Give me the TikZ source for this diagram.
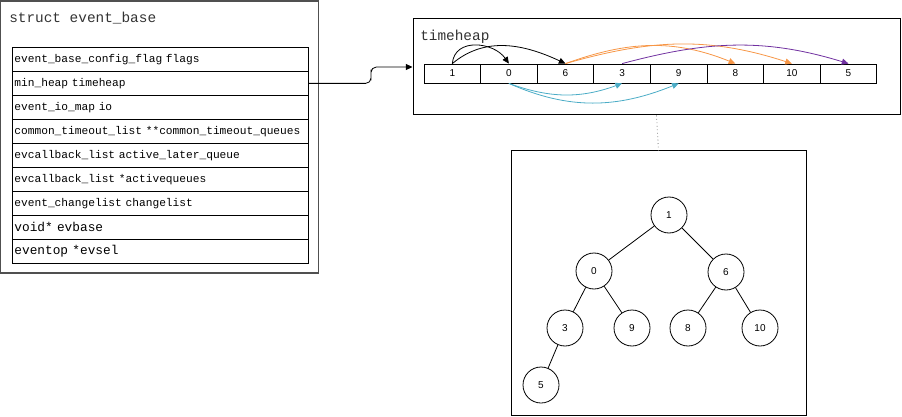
\documentclass[tikz,border=0pt]{standalone}
\usepackage{fontspec}
\setmonofont{Liberation Mono}
\setsansfont{Liberation Sans}
\usetikzlibrary{arrows.meta}
\definecolor{arrorange}{HTML}{F79646}
\definecolor{arrpurple}{HTML}{7030A0}
\definecolor{arrblue}{HTML}{4BACC6}
\definecolor{framegray}{HTML}{505050}
\begin{document}
\begin{tikzpicture}[x=0.75pt,y=-0.75pt,
  outerframe/.style={draw=framegray, line width=0.9pt, inner sep=0pt},
  frame/.style={draw=black, line width=0.75pt, inner sep=0pt},
  titletext/.style={anchor=west, inner sep=0pt, font=\ttfamily\fontsize{10.8}{12}\selectfont, text=black!80},
  field/.style={draw, line width=0.6pt, anchor=north west, minimum height=18pt, minimum width=222pt,
    text width=219pt, inner xsep=1.5pt, inner ysep=0pt, align=left, font=\ttfamily\fontsize{8.4}{10}\selectfont},
  bigfield/.style={field, font=\ttfamily\fontsize{9.6}{11}\selectfont},
  cell/.style={draw, line width=0.6pt, minimum width=42.45pt, minimum height=14.25pt, inner sep=0pt,
    font=\sffamily\fontsize{7.5}{9}\selectfont},
  tnode/.style={circle, draw, line width=0.6pt, minimum size=27pt, inner sep=0pt,
    font=\sffamily\fontsize{7.5}{9}\selectfont},
  harr/.style={-{Triangle[length=5pt,width=4.5pt]}, line width=0.6pt},
  tedge/.style={line width=0.6pt}
]
\useasboundingbox (0,0) rectangle (902,417);

% struct event_base
\node[outerframe, minimum width=238.5pt, minimum height=204pt] (ob) at (159.75,137) {};
\node[titletext] (obt) at (9,18) {struct event\_base};
\node[field] (r1) at (12,47) {event\_base\_config\_flag flags};
\node[field] (r2) at (12,71) {min\_heap timeheap};
\node[field] (r3) at (12,95) {event\_io\_map io};
\node[field] (r4) at (12,119) {common\_timeout\_list **common\_timeout\_queues};
\node[field] (r5) at (12,143) {evcallback\_list active\_later\_queue};
\node[field] (r6) at (12,167) {evcallback\_list *activequeues};
\node[field] (r7) at (12,191) {event\_changelist changelist};
\node[bigfield] (r8) at (12,215) {void* evbase};
\node[bigfield] (r9) at (12,239) {eventop *evsel};

% timeheap box
\node[frame, minimum width=365.25pt, minimum height=72pt] (th) at (656.5,67) {};
\node[titletext] (tht) at (420,37) {timeheap};
\foreach \v [count=\i from 0] in {1,0,6,3,9,8,10,5} {
  \node[cell] (c\i) at (452.3+56.6*\i,73.5) {\v};
}

% connector
\coordinate (mid) at (371,75);
\draw[harr, rounded corners=4pt] (r2.east) -| (mid) |- (th.west);

% array arrows
\draw[harr] (c0.north) to[out=85,in=125, looseness=1.2] (c1.north);
\draw[harr] (c0.north) to[out=40,in=155] (c2.north);
\draw[harr, color=arrorange] (c2.north) to[out=20,in=158] (c5.north);
\draw[harr, color=arrorange] (c2.north) to[out=16,in=162] (c6.north);
\draw[harr, color=arrpurple] (c3.north) to[out=15,in=163] (c7.north);
\draw[harr, color=arrblue] (c1.south) to[out=-20,in=-160] (c3.south);
\draw[harr, color=arrblue] (c1.south) to[out=-24,in=-158] (c4.south);

% tree box
\node[frame, minimum width=221.25pt, minimum height=198pt] (tb) at (658.5,283) {};
\draw[dotted, draw=gray, line width=0.6pt] (th.south) -- (tb.north);

\node[tnode] (t1) at (669,215) {1};
\node[tnode] (t0) at (594,271) {0};
\node[tnode] (t6) at (726,272) {6};
\node[tnode] (t3) at (565,328) {3};
\node[tnode] (t9) at (632,328) {9};
\node[tnode] (t8) at (688,328) {8};
\node[tnode] (t10) at (760,328) {10};
\node[tnode] (t5) at (541,385) {5};
\draw[tedge] (t1) -- (t0);
\draw[tedge] (t1) -- (t6);
\draw[tedge] (t0) -- (t3);
\draw[tedge] (t0) -- (t9);
\draw[tedge] (t6) -- (t8);
\draw[tedge] (t6) -- (t10);
\draw[tedge] (t3) -- (t5);
\end{tikzpicture}
\end{document}
